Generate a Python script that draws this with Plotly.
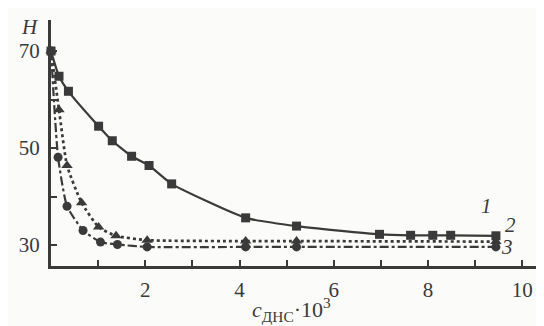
import plotly.graph_objects as go

# Curve 1 (squares, solid)
x1 = [0.0, 0.17, 0.37, 1.01, 1.30, 1.71, 2.08, 2.56, 4.13, 5.21, 6.97, 7.63, 8.10, 8.48, 9.44]
h1 = [70.0, 64.8, 61.7, 54.5, 51.5, 48.3, 46.4, 42.6, 35.6, 33.9, 32.2, 32.0, 32.0, 32.0, 31.9]
# Curve 2 (triangles, dotted)
x2 = [0.0, 0.17, 0.34, 0.65, 1.01, 1.38, 2.04, 4.13, 5.21, 9.44]
h2 = [70.0, 57.9, 46.4, 38.7, 33.7, 31.9, 31.0, 30.8, 30.8, 30.7]
# Curve 3 (circles, dash-dot)
x3 = [0.0, 0.15, 0.34, 0.68, 1.05, 1.41, 2.04, 4.13, 5.21, 9.44]
h3 = [70.0, 48.1, 38.0, 33.0, 30.6, 30.1, 29.6, 29.6, 29.6, 29.6]

x_ticks = [1, 2, 3, 4, 5, 6, 7, 8, 9, 10]
x_ticktext = ["", "2", "", "4", "", "6", "", "8", "", "10"]
y_ticks = [30, 40, 50, 60, 70]
y_ticktext = ["30", "", "50", "", "70"]

INK = "#3a3a3a"
FONT = "'Liberation Serif'"

fig = go.Figure()
fig.add_trace(go.Scatter(x=x1, y=h1, mode="lines+markers", cliponaxis=False,
                         line=dict(color=INK, width=2.2, shape="spline", smoothing=0.5),
                         marker=dict(symbol="square", size=9, color=INK)))
fig.add_trace(go.Scatter(x=x2, y=h2, mode="lines+markers", cliponaxis=False,
                         line=dict(color=INK, width=2.7, dash="dot", shape="spline", smoothing=0.5),
                         marker=dict(symbol="triangle-up", size=10, color=INK)))
fig.add_trace(go.Scatter(x=x3, y=h3, mode="lines+markers", cliponaxis=False,
                         line=dict(color=INK, width=2.2, dash="dashdot", shape="spline", smoothing=0.5),
                         marker=dict(symbol="circle", size=9, color=INK)))

lab = dict(family=FONT, size=21, color=INK)
for txt, xx, yy in [("1", 9.25, 38.0), ("2", 9.74, 34.2), ("3", 9.68, 29.6)]:
    fig.add_annotation(x=xx, y=yy, text="<i>%s</i>" % txt, showarrow=False, font=lab,
                       xanchor="center", yanchor="middle")

fig.add_annotation(xref="paper", yref="paper", x=-0.02, y=0.97, text="<i>H</i>",
                   showarrow=False, font=lab, xanchor="right", yanchor="middle")
fig.add_annotation(xref="paper", yref="paper", x=0.48, y=-0.178,
                   text="<i>c</i><sub>ДНС</sub>·10<sup>3</sup>",
                   showarrow=False, font=dict(family=FONT, size=22, color=INK),
                   xanchor="center", yanchor="middle")

fig.update_layout(
    width=544, height=326,
    margin=dict(l=43, r=0, t=12, b=68),
    paper_bgcolor="#fbfbf9", plot_bgcolor="#fbfbf9",
    showlegend=False,
    xaxis=dict(range=[0, 10.63], showgrid=False, zeroline=False, showline=True,
               linecolor=INK, linewidth=3, ticks="inside", ticklen=6, tickwidth=2,
               tickcolor=INK, tickvals=x_ticks, ticktext=x_ticktext,
               tickfont=lab, ticklabelstandoff=3),
    yaxis=dict(range=[25.67, 76.4], showgrid=False, zeroline=False, showline=True,
               linecolor=INK, linewidth=3, ticks="inside", ticklen=6, tickwidth=2,
               tickcolor=INK, tickvals=y_ticks, ticktext=y_ticktext,
               tickfont=lab, ticklabelstandoff=4),
)

fig.write_html("out.html")
